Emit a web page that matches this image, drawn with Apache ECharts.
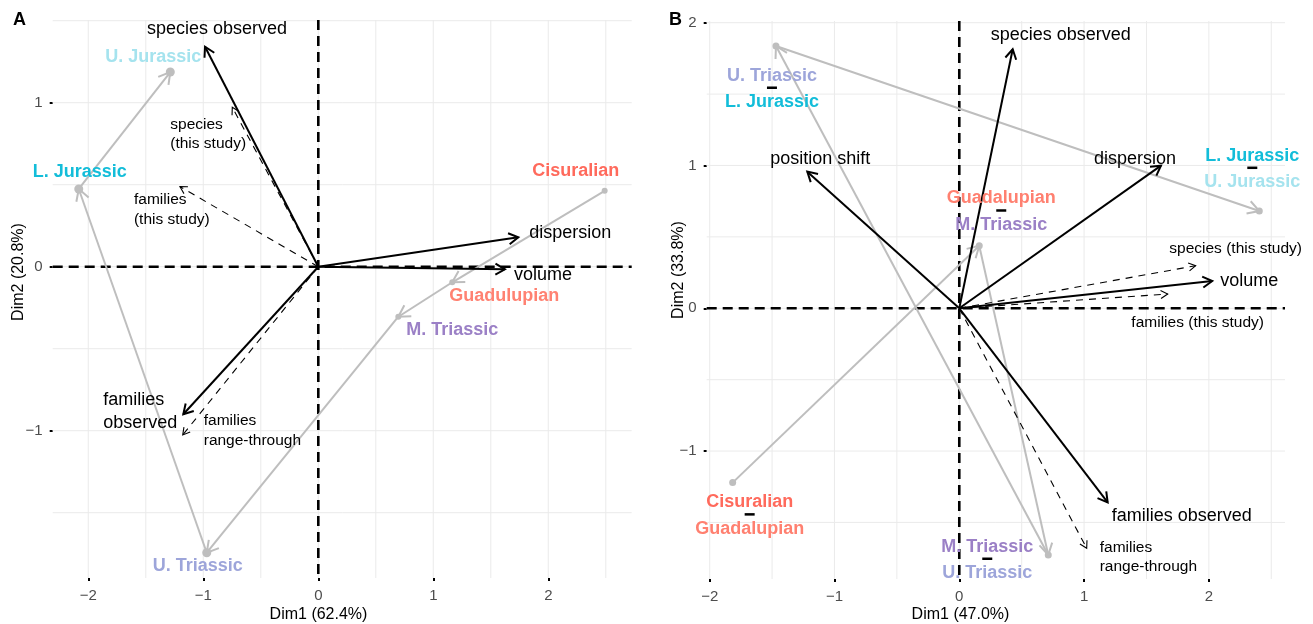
<!DOCTYPE html>
<html><head><meta charset="utf-8">
<script src="https://cdn.jsdelivr.net/npm/echarts@6/dist/echarts.min.js"></script>
<style>html,body{margin:0;padding:0;background:#fff}#c{width:1313px;height:624px}</style>
</head><body><div id="c"></div>
<script>
// ---------- DATA: Panel A ----------
const periodsA = ['Cisuralian','Guadulupian','M. Triassic','U. Triassic','L. Jurassic','U. Jurassic'];
const dim1A = [2.49, 1.165, 0.696, -0.970, -2.083, -1.287];
const dim2A = [0.463, -0.095, -0.305, -1.744, 0.474, 1.187];
const varsA = ['species observed','dispersion','volume','families\nobserved'];
const varDim1A = [-0.985, 1.739, 1.623, -1.174];
const varDim2A = [1.341, 0.179, -0.016, -0.900];
const suppA = ['species\n(this study)','families\n(this study)','families\nrange-through'];
const suppDim1A = [-0.748, -1.203, -1.179];
const suppDim2A = [0.972, 0.488, -1.026];
const xTicksA = [-2,-1,0,1,2];
const yTicksA = [-1,0,1];
const xGridA = [-2,-1.5,-1,-0.5,0,0.5,1,1.5,2,2.5];
const yGridA = [-1.5,-1,-0.5,0,0.5,1,1.5];

// ---------- DATA: Panel B ----------
const transFromB = ['Cisuralian','Guadalupian','M. Triassic','U. Triassic','L. Jurassic'];
const transToB   = ['Guadalupian','M. Triassic','U. Triassic','L. Jurassic','U. Jurassic'];
const dim1B = [-1.816, 0.160, 0.713, -1.469, 2.404];
const dim2B = [-1.221, 0.438, -1.728, 1.837, 0.681];
const varsB = ['species observed','position shift','dispersion','volume','families observed'];
const varDim1B = [0.428, -1.218, 1.616, 2.027, 1.189];
const varDim2B = [1.814, 0.957, 0.999, 0.191, -1.359];
const suppB = ['species (this study)','families (this study)','families\nrange-through'];
const suppDim1B = [1.894, 1.670, 1.021];
const suppDim2B = [0.298, 0.100, -1.681];
const xTicksB = [-2,-1,0,1,2];
const yTicksB = [-1,0,1,2];
const xGridB = [-2,-1.5,-1,-0.5,0,0.5,1,1.5,2,2.5];
const yGridB = [-1.5,-1,-0.5,0,0.5,1,1.5,2];

// ---------- STYLES ----------
const FONT = "'Liberation Sans', Arial, Helvetica, sans-serif";
const periodColors = {
  'Cisuralian':'#FF6A5C','Guadulupian':'#FF8272','Guadalupian':'#FF8070',
  'M. Triassic':'#9B80C6','U. Triassic':'#9DA5DA','L. Jurassic':'#13BDD9','U. Jurassic':'#A5E3EE'
};
const pointRadiusA = [3, 3, 3, 4.5, 4.5, 4.5];
const pointRadiusB = [3.5, 3.5, 3.5, 3.5, 3.5];
const periodLabelOffA = [[-29,-20],[52,14],[54,13],[-9,13],[1,-17],[-17,-15]];
const varLabelA = [{dx:12,dy:-18,align:'center'},{dx:11,dy:-4,align:'left'},{dx:9,dy:6,align:'left'},{dx:-80,dy:-3,align:'left'}];
const suppLabelA = [{dx:-62,dy:27,align:'left'},{dx:-46,dy:23,align:'left'},{dx:21,dy:-4,align:'left'}];
const varLabelB = [{dx:48,dy:-14,align:'center'},{dx:13,dy:-13,align:'center'},{dx:-26,dy:-7,align:'center'},{dx:8,dy:0,align:'left'},{dx:74,dy:14,align:'center'}];
const suppLabelB = [{dx:40,dy:-17,align:'center'},{dx:30,dy:29,align:'center'},{dx:13,dy:9,align:'left'}];
const transLabelOffB = [[17,33],[22,-34],[-61,5],[-4,43],[-7,-42]];

const GRAY = '#BEBEBE';

// ---------- render helpers ----------
function gridLineRenderer(dir, color, width, dash){
  return function(params, api){
    const cs = params.coordSys;
    const p = api.coord([api.value(0), api.value(1)]);
    const style = {stroke:color, lineWidth:width, fill:null};
    if (dash) style.lineDash = dash;
    if (dir === 'v') return {type:'line', shape:{x1:p[0],y1:cs.y,x2:p[0],y2:cs.y+cs.height}, style};
    return {type:'line', shape:{x1:cs.x,y1:p[1],x2:cs.x+cs.width,y2:p[1]}, style};
  };
}
function arrowRenderer(o){
  return function(params, api){
    const p0 = api.coord([api.value(0), api.value(1)]);
    const p1 = api.coord([api.value(2), api.value(3)]);
    const ang = Math.atan2(p1[1]-p0[1], p1[0]-p0[0]);
    const L = o.head, a = Math.PI/6;
    const h1 = [p1[0]-L*Math.cos(ang-a), p1[1]-L*Math.sin(ang-a)];
    const h2 = [p1[0]-L*Math.cos(ang+a), p1[1]-L*Math.sin(ang+a)];
    const ls = {stroke:o.color, lineWidth:o.width, fill:null};
    if (o.dash) ls.lineDash = o.dash;
    return {type:'group', children:[
      {type:'line', shape:{x1:p0[0],y1:p0[1],x2:p1[0],y2:p1[1]}, style:ls},
      {type:'polyline', shape:{points:[h1,p1,h2]}, style:{stroke:o.color, lineWidth:o.width, fill:null}}
    ]};
  };
}
function pointRenderer(radii){
  return function(params, api){
    const p = api.coord([api.value(0), api.value(1)]);
    return {type:'circle', shape:{cx:p[0], cy:p[1], r:radii[params.dataIndex]}, style:{fill:GRAY}};
  };
}
function textRenderer(texts, cfg, font){
  return function(params, api){
    const i = params.dataIndex;
    const p = api.coord([api.value(0), api.value(1)]);
    const c = cfg[i];
    return {type:'text', x:p[0]+c.dx, y:p[1]+c.dy, style:{
      text:texts[i], fill:font.color||'#000', fontSize:font.size, fontFamily:FONT, fontWeight:font.weight||'normal',
      align:c.align, textAlign:c.align, verticalAlign:'middle', textVerticalAlign:'middle', lineHeight:font.lh
    }};
  };
}
function periodLabelRenderer(names, offs){
  return function(params, api){
    const i = params.dataIndex;
    const p = api.coord([api.value(0), api.value(1)]);
    return {type:'text', x:p[0]+offs[i][0], y:p[1]+offs[i][1], style:{
      text:names[i], fill:periodColors[names[i]], fontSize:18, fontWeight:'bold', fontFamily:FONT,
      align:'center', textAlign:'center', verticalAlign:'middle', textVerticalAlign:'middle'
    }};
  };
}
function transLabelRenderer(offs){
  return function(params, api){
    const i = params.dataIndex;
    const p = api.coord([api.value(0), api.value(1)]);
    const cx = p[0]+offs[i][0], cy = p[1]+offs[i][1];
    const mk = (t, y) => ({type:'text', x:cx, y:y, style:{text:t, fill:periodColors[t], fontSize:18, fontWeight:'bold', fontFamily:FONT,
      align:'center', textAlign:'center', verticalAlign:'middle', textVerticalAlign:'middle'}});
    return {type:'group', children:[
      mk(transFromB[i], cy-13.3),
      {type:'rect', shape:{x:cx-5, y:cy-2.5, width:10, height:2.5}, style:{fill:'#000'}},
      mk(transToB[i], cy+13.3)
    ]};
  };
}
const minus = v => v < 0 ? '\u2212' + Math.abs(v) : String(v);

function axisPair(gi, xr, yr, xt, yt){
  const common = {
    type:'value', gridIndex:gi, scale:false,
    axisLine:{show:false, onZero:false}, splitLine:{show:false},
    axisTick:{show:true, length:3, lineStyle:{color:'#000', width:2}},
    axisLabel:{color:'#4D4D4D', fontSize:15, fontFamily:FONT, margin:10, formatter:minus}
  };
  const x = echarts.util.merge(echarts.util.clone(common), {min:xr[0], max:xr[1], axisTick:{customValues:xt}, axisLabel:{customValues:xt}}, true);
  const y = echarts.util.merge(echarts.util.clone(common), {min:yr[0], max:yr[1], axisTick:{customValues:yt}, axisLabel:{customValues:yt}}, true);
  return [x, y];
}
const [xA, yA] = axisPair(0, [-2.3096, 2.7252], [-1.8982, 1.5043], xTicksA, yTicksA);
const [xB, yB] = axisPair(1, [-2.024, 2.610], [-1.896, 2.012], xTicksB, yTicksB);

function panelSeries(gi, d){
  const base = {type:'custom', coordinateSystem:'cartesian2d', xAxisIndex:gi, yAxisIndex:gi, silent:true, clip:false};
  const s = [];
  s.push(Object.assign({}, base, {z:1, renderItem:gridLineRenderer('v','#EBEBEB',1), data:d.xGrid.map(v=>[v,0])}));
  s.push(Object.assign({}, base, {z:1, renderItem:gridLineRenderer('h','#EBEBEB',1), data:d.yGrid.map(v=>[0,v])}));
  s.push(Object.assign({}, base, {z:2, renderItem:gridLineRenderer('v','#000',2.6,[10,6]), data:[[0,0]]}));
  s.push(Object.assign({}, base, {z:2, renderItem:gridLineRenderer('h','#000',2.6,[10,6]), data:[[0,0]]}));
  const path = [];
  for (let i=1;i<d.d1.length;i++) path.push([d.d1[i-1], d.d2[i-1], d.d1[i], d.d2[i]]);
  const dims = {dimensions:['x0','y0','x1','y1'], encode:{x:[0,2], y:[1,3]}};
  s.push(Object.assign({}, base, dims, {z:3, renderItem:arrowRenderer({color:GRAY,width:2,head:13}), data:path}));
  s.push(Object.assign({}, base, {z:4, renderItem:pointRenderer(d.radii), data:d.d1.map((v,i)=>[v,d.d2[i]])}));
  s.push(Object.assign({}, base, dims, {z:5, renderItem:arrowRenderer({color:'#000',width:1.1,head:8,dash:[7,6]}), data:d.sx.map((v,i)=>[0,0,v,d.sy[i]])}));
  s.push(Object.assign({}, base, dims, {z:6, renderItem:arrowRenderer({color:'#000',width:2,head:11}), data:d.vx.map((v,i)=>[0,0,v,d.vy[i]])}));
  s.push(Object.assign({}, base, {z:7, renderItem:textRenderer(d.vars, d.varCfg, {size:18, lh:22.5}), data:d.vx.map((v,i)=>[v,d.vy[i]])}));
  s.push(Object.assign({}, base, {z:7, renderItem:textRenderer(d.supp, d.suppCfg, {size:15.5, lh:19.5}), data:d.sx.map((v,i)=>[v,d.sy[i]])}));
  s.push(Object.assign({}, base, {z:8, renderItem:d.labelRenderer, data:d.d1.map((v,i)=>[v,d.d2[i]])}));
  return s;
}

const series = [].concat(
  panelSeries(0, {xGrid:xGridA, yGrid:yGridA, d1:dim1A, d2:dim2A, radii:pointRadiusA,
    sx:suppDim1A, sy:suppDim2A, vx:varDim1A, vy:varDim2A, vars:varsA, varCfg:varLabelA, supp:suppA, suppCfg:suppLabelA,
    labelRenderer:periodLabelRenderer(periodsA, periodLabelOffA)}),
  panelSeries(1, {xGrid:xGridB, yGrid:yGridB, d1:dim1B, d2:dim2B, radii:pointRadiusB,
    sx:suppDim1B, sy:suppDim2B, vx:varDim1B, vy:varDim2B, vars:varsB, varCfg:varLabelB, supp:suppB, suppCfg:suppLabelB,
    labelRenderer:transLabelRenderer(transLabelOffB)})
);

const titleStyle = {fill:'#000', fontSize:16, fontFamily:FONT};
const tagStyle = {fill:'#000', fontSize:18, fontWeight:'bold', fontFamily:FONT, align:'center', verticalAlign:'middle', textAlign:'center', textVerticalAlign:'middle'};
const chart = echarts.init(document.getElementById('c'), null, {renderer:'canvas'});
chart.setOption({
  animation:false,
  backgroundColor:'#fff',
  grid:[
    {left:52.7, top:20, width:579, height:558},
    {left:706.7, top:21, width:578.3, height:558}
  ],
  xAxis:[xA, xB],
  yAxis:[yA, yB],
  series:series,
  graphic:[
    {type:'text', x:19.5, y:20, style:Object.assign({text:'A'}, tagStyle)},
    {type:'text', x:675.5, y:20, style:Object.assign({text:'B'}, tagStyle)},
    {type:'text', x:318.5, y:615, style:Object.assign({text:'Dim1 (62.4%)', align:'center', verticalAlign:'middle', textAlign:'center', textVerticalAlign:'middle'}, titleStyle)},
    {type:'text', x:960.5, y:615, style:Object.assign({text:'Dim1 (47.0%)', align:'center', verticalAlign:'middle', textAlign:'center', textVerticalAlign:'middle'}, titleStyle)},
    {type:'text', x:19, y:272, rotation:Math.PI/2, style:Object.assign({text:'Dim2 (20.8%)', align:'center', verticalAlign:'middle', textAlign:'center', textVerticalAlign:'middle'}, titleStyle)},
    {type:'text', x:679, y:270, rotation:Math.PI/2, style:Object.assign({text:'Dim2 (33.8%)', align:'center', verticalAlign:'middle', textAlign:'center', textVerticalAlign:'middle'}, titleStyle)}
  ]
});
</script></body></html>
